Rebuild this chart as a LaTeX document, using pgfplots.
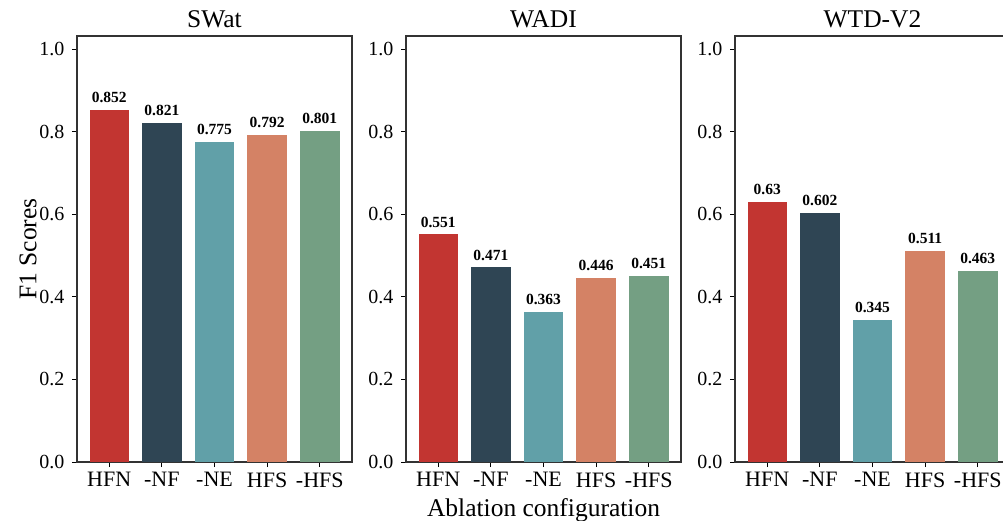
\documentclass[border=0pt]{standalone}
\usepackage{pgfplots}
\pgfplotsset{compat=1.18}
\usepackage{fontspec}
\setmainfont{Liberation Serif}
\definecolor{cA}{HTML}{C23531}
\definecolor{cB}{HTML}{2F4554}
\definecolor{cC}{HTML}{61A0A8}
\definecolor{cD}{HTML}{D48265}
\definecolor{cE}{HTML}{749F83}
\pgfplotsset{
  panel/.style={
    scale only axis, width=275pt, height=426pt,
    ymin=0, ymax=1.0315, xmin=-0.6125, xmax=4.6125,
    ytick={0,0.2,0.4,0.6,0.8,1.0},
    yticklabels={0.0,0.2,0.4,0.6,0.8,1.0},
    xtick={0,1,2,3,4},
    xticklabels={HFN,-NF,-NE,HFS,-HFS},
    tick pos=left, tick align=outside,
    major tick length=5pt,
    tick style={black, line width=0.9pt},
    axis line style={line width=1.1pt, black!80},
    /pgf/number format/assume math mode=true,
    yticklabel style={font=\fontsize{20}{22}\selectfont, xshift=-4pt},
    xticklabel style={font=\fontsize{22}{24}\selectfont, yshift=-2pt},
    title style={font=\fontsize{25.5}{27}\selectfont, yshift=-1pt},
    label style={font=\fontsize{25.5}{27}\selectfont},
    ybar, bar width=0.75, bar shift=0pt,
    every axis plot/.append style={draw=none},
    nodes near coords,
    nodes near coords style={font=\bfseries\fontsize{15.5}{17}\selectfont, inner sep=3pt, yshift=4pt},
    point meta=explicit symbolic,
  }
}
\begin{document}
\begin{tikzpicture}
\begin{axis}[panel, at={(77pt,58pt)}, anchor=south west, title={SWat}, ylabel={F1 Scores}, ylabel style={yshift=-4pt}]
\addplot[fill=cA] coordinates {(0,0.852) [0.852]};
\addplot[fill=cB] coordinates {(1,0.821) [0.821]};
\addplot[fill=cC] coordinates {(2,0.775) [0.775]};
\addplot[fill=cD] coordinates {(3,0.792) [0.792]};
\addplot[fill=cE] coordinates {(4,0.801) [0.801]};
\end{axis}
\begin{axis}[panel, at={(406pt,58pt)}, anchor=south west, title={WADI}, xlabel={Ablation configuration}, xlabel style={yshift=-4pt}]
\addplot[fill=cA] coordinates {(0,0.551) [0.551]};
\addplot[fill=cB] coordinates {(1,0.471) [0.471]};
\addplot[fill=cC] coordinates {(2,0.363) [0.363]};
\addplot[fill=cD] coordinates {(3,0.446) [0.446]};
\addplot[fill=cE] coordinates {(4,0.451) [0.451]};
\end{axis}
\begin{axis}[panel, at={(735pt,58pt)}, anchor=south west, title={WTD-V2}]
\addplot[fill=cA] coordinates {(0,0.63) [0.63]};
\addplot[fill=cB] coordinates {(1,0.602) [0.602]};
\addplot[fill=cC] coordinates {(2,0.345) [0.345]};
\addplot[fill=cD] coordinates {(3,0.511) [0.511]};
\addplot[fill=cE] coordinates {(4,0.463) [0.463]};
\end{axis}
\pgfresetboundingbox
\path[use as bounding box] (0,0) rectangle (1003pt,520pt);
\end{tikzpicture}
\end{document}
